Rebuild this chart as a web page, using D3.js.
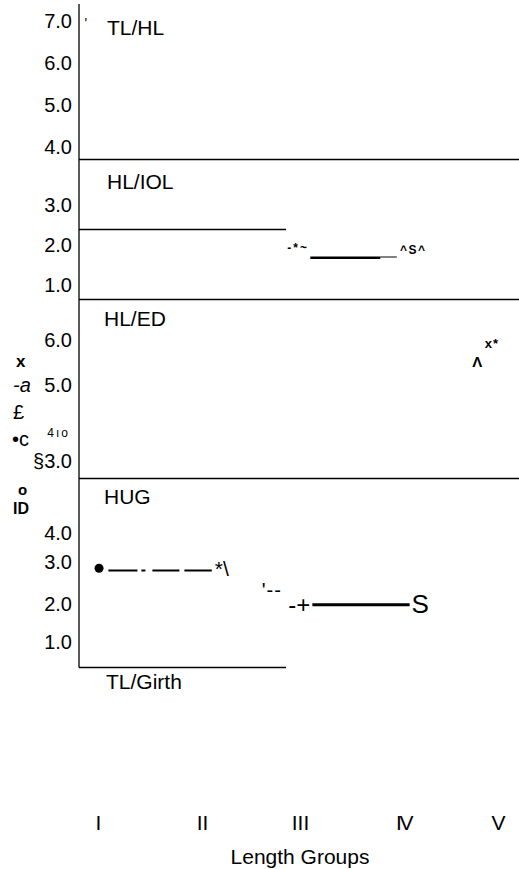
<!DOCTYPE html>
<html>
<head>
<meta charset="utf-8">
<script src="https://cdn.jsdelivr.net/npm/d3@7"></script>
<style>
  body { margin: 0; background: #fff; }
  text { font-family: "Liberation Sans", Arial, sans-serif; fill: #000; }
</style>
</head>
<body>
<div id="chart"></div>
<script>
// length groups along the bottom
const groups = ["I", "II", "III", "IV", "V"];
const panelNames = ["TL/HL", "HL/IOL", "HL/ED", "HUG", "TL/Girth"];

// y ticks of each panel
const tlhlTicks = [4, 5, 6, 7];
const hliolTicks = [1, 2, 3];
const hledTicks = [3, 4, 5, 6];
const hledTickLabels = ["§3.0", "4ıo", "5.0", "6.0"];
const hugTicks = [1, 2, 3, 4];

// marks, x = length group position (1 = I), v = ratio value
const tlhlMarks = [{ x: 0.87, v: 6.95, t: "'" }];
const hliolLine = [[3.10, 1.68], [3.78, 1.68]];
const hliolTail = [[3.78, 1.70], [3.94, 1.70]];
const hliolMarks = [{ x: 2.87, v: 1.93, t: "-*~" }, { x: 3.97, v: 1.88, t: "^S^" }];
const hledMarks = [{ x: 4.86, v: 5.93, t: "x*" }, { x: 4.73, v: 5.52, t: "Λ" }];
const hugDot = [{ x: 1.01, v: 2.85 }];
const hugDashed = [[1.10, 2.80], [2.10, 2.80]];
const hugSolid = [[3.12, 1.98], [4.07, 1.98]];
const hugMarks = [
  { x: 2.13, v: 2.85, t: "*\\" },
  { x: 2.61, v: 2.34, t: "'--" },
  { x: 2.88, v: 1.99, t: "-+" },
  { x: 4.09, v: 1.99, t: "S" }
];

// garbled rotated axis title pieces
const yLabelBits = ["x", "-a", "£", "•c", "o", "ID"];

const width = 519, height = 869;
const axisX = 79;

const svg = d3.select("#chart").append("svg")
  .attr("width", width)
  .attr("height", height);

const x = d3.scaleLinear().domain([1, 2, 3, 4, 5]).range([98, 202, 300, 403, 498]);

const yTlhl = d3.scaleLinear().domain([4, 7]).range([147, 21]);
const yHliol = d3.scaleLinear().domain([1, 3]).range([285, 205]);
const yHled = d3.scaleLinear().domain([3, 4, 5, 6]).range([461, 433, 385, 340]);
const yHug = d3.scaleLinear().domain([1, 2, 3, 4]).range([642, 604, 562, 533]);

// frame
const frame = svg.append("g").attr("stroke", "#000").attr("stroke-width", 1.3);
frame.append("line").attr("x1", axisX).attr("x2", axisX).attr("y1", 4).attr("y2", 667.5);
[[159.5, width], [229.5, 286], [299.5, width], [478.5, width], [667.5, 286]].forEach(([yy, x2]) => {
  frame.append("line").attr("x1", axisX).attr("x2", x2).attr("y1", yy).attr("y2", yy);
});

// y axes
const yAxis = (scale, ticks, fmt) => g => g
  .attr("transform", `translate(${axisX},0)`)
  .call(d3.axisLeft(scale).tickValues(ticks).tickSize(0).tickPadding(7).tickFormat(fmt))
  .call(g => g.select(".domain").remove())
  .call(g => g.selectAll("text").attr("font-size", 20));

svg.append("g").call(yAxis(yTlhl, tlhlTicks, d3.format(".1f")));
svg.append("g").call(yAxis(yHliol, hliolTicks, d3.format(".1f")));
svg.append("g").call(yAxis(yHled, hledTicks, (d, i) => hledTickLabels[i]))
  .call(g => g.selectAll(".tick text").filter(d => d === 4)
    .attr("font-size", 12).attr("letter-spacing", 2).attr("x", -9));
svg.append("g").call(yAxis(yHug, hugTicks, d3.format(".1f")));

// panel labels
const panelPos = [[107, 28], [107, 182], [104, 319], [104, 497], [106, 682]];
svg.append("g").selectAll("text")
  .data(panelNames)
  .join("text")
  .attr("x", (d, i) => panelPos[i][0])
  .attr("y", (d, i) => panelPos[i][1])
  .attr("dy", "0.35em")
  .attr("font-size", 21)
  .text(d => d);

// x axis
svg.append("g")
  .attr("transform", "translate(0,815)")
  .call(d3.axisBottom(x).tickValues([1, 2, 3, 4, 5]).tickSize(0).tickPadding(0)
    .tickFormat(d => groups[d - 1]))
  .call(g => g.select(".domain").remove())
  .call(g => g.selectAll("text").attr("font-size", 21))
  .call(g => g.selectAll(".tick text").filter(d => d === 4).attr("letter-spacing", -2.5));

svg.append("text")
  .attr("x", 300).attr("y", 857).attr("dy", "0.35em")
  .attr("text-anchor", "middle").attr("font-size", 21)
  .text("Length Groups");

// garbled y title
const bitStyle = [
  { x: 16, y: 361, size: 17, weight: "bold" },
  { x: 13, y: 385, size: 20, italic: true },
  { x: 13, y: 412, size: 20 },
  { x: 12, y: 439, size: 20 },
  { x: 18, y: 490, size: 15, weight: "bold" },
  { x: 13, y: 508, size: 16, weight: "bold" }
];
svg.append("g").selectAll("text")
  .data(yLabelBits)
  .join("text")
  .attr("x", (d, i) => bitStyle[i].x)
  .attr("y", (d, i) => bitStyle[i].y)
  .attr("dy", "0.35em")
  .attr("font-size", (d, i) => bitStyle[i].size)
  .attr("font-weight", (d, i) => bitStyle[i].weight || "normal")
  .attr("font-style", (d, i) => bitStyle[i].italic ? "italic" : "normal")
  .text(d => d);

// lines
const line = y => d3.line().x(d => x(d[0])).y(d => y(d[1]));

svg.append("path").datum(hliolLine)
  .attr("fill", "none").attr("stroke", "#000").attr("stroke-width", 2.5)
  .attr("d", line(yHliol));
svg.append("path").datum(hliolTail)
  .attr("fill", "none").attr("stroke", "#000").attr("stroke-width", 1)
  .attr("d", line(yHliol));

svg.append("path").datum(hugDashed)
  .attr("fill", "none").attr("stroke", "#000").attr("stroke-width", 2)
  .attr("stroke-dasharray", "29,4,4,7,27,5,28,100")
  .attr("d", line(yHug));
svg.append("path").datum(hugSolid)
  .attr("fill", "none").attr("stroke", "#000").attr("stroke-width", 3)
  .attr("d", line(yHug));

svg.selectAll("circle.dot")
  .data(hugDot)
  .join("circle")
  .attr("class", "dot")
  .attr("cx", d => x(d.x))
  .attr("cy", d => yHug(d.v))
  .attr("r", 4.5);

// glyph markers
const markStyle = {
  "'": { size: 14 },
  "-*~": { size: 12, weight: "bold", ls: 2 },
  "^S^": { size: 12, weight: "bold", ls: 1.5 },
  "x*": { size: 13, weight: "bold", ls: 1 },
  "Λ": { size: 15, weight: "bold" },
  "*\\": { size: 21 },
  "'--": { size: 20, ls: 1 },
  "-+": { size: 24 },
  "S": { size: 26 }
};

const drawMarks = (data, y) => svg.append("g").selectAll("text")
  .data(data)
  .join("text")
  .attr("x", d => x(d.x))
  .attr("y", d => y(d.v))
  .attr("dy", "0.35em")
  .attr("font-size", d => markStyle[d.t].size)
  .attr("font-weight", d => markStyle[d.t].weight || "normal")
  .attr("letter-spacing", d => markStyle[d.t].ls || 0)
  .text(d => d.t);

drawMarks(tlhlMarks, yTlhl);
drawMarks(hliolMarks, yHliol);
drawMarks(hledMarks, yHled);
drawMarks(hugMarks, yHug);
</script>
</body>
</html>
